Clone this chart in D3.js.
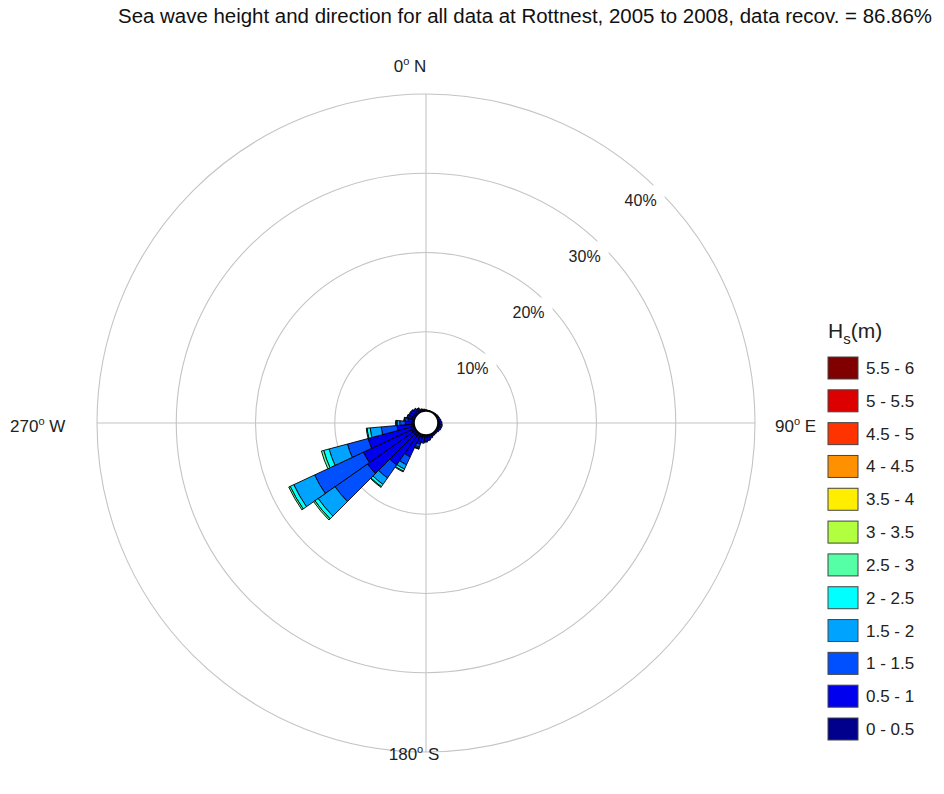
<!DOCTYPE html>
<html>
<head>
<meta charset="utf-8">
<script src="https://cdn.jsdelivr.net/npm/d3@7/dist/d3.min.js"></script>
<style>
  html, body { margin: 0; padding: 0; background: #fff; }
  svg { display: block; font-family: "Liberation Sans", Arial, sans-serif; }
</style>
</head>
<body>
<svg id="chart" width="944" height="794"></svg>
<script>
// Direction bins (bin centres, degrees clockwise from north, 10° wide)
const directions = [0,10,20,30,40,50,60,70,80,90,100,110,120,130,140,150,160,170,
                    180,190,200,210,220,230,240,250,260,270,280,290,300,310,320,330,340,350];

// Percentage of records in each direction bin, per Hs class (m)
const hs_0_05  = [0.10,0.06,0.06,0.06,0.08,0.10,0.12,0.14,0.18,0.20,0.22,0.20,0.18,0.15,0.15,0.15,0.20,0.25,
                  0.30,0.30,0.35,0.40,0.45,0.50,0.50,0.45,0.35,0.30,0.30,0.35,0.40,0.40,0.35,0.30,0.20,0.15];
const hs_05_1  = [0.05,0.04,0.04,0.04,0.07,0.10,0.13,0.16,0.22,0.30,0.33,0.30,0.22,0.15,0.15,0.20,0.30,0.40,
                  0.50,0.60,0.90,2.80,4.50,7.00,6.70,5.60,1.80,0.80,0.50,0.45,0.40,0.40,0.35,0.25,0.15,0.10];
const hs_1_15  = [0,0,0,0,0,0,0,0,0,0,0,0,0,0,0,0,0,0.05,
                  0.10,0.15,0.40,1.10,2.00,5.00,6.80,2.70,2.00,0.70,0.30,0.15,0.10,0.08,0.07,0.05,0,0];
const hs_15_2  = [0,0,0,0,0,0,0,0,0,0,0,0,0,0,0,0,0,0,
                  0,0,0.15,0.60,1.00,2.60,2.90,2.40,1.40,0.35,0.15,0.05,0,0,0,0,0,0];
const hs_2_25  = [0,0,0,0,0,0,0,0,0,0,0,0,0,0,0,0,0,0,
                  0,0,0.07,0.30,0.35,0.50,0.50,0.70,0.40,0.12,0.05,0,0,0,0,0,0,0];
const hs_25_3  = [0,0,0,0,0,0,0,0,0,0,0,0,0,0,0,0,0,0,
                  0,0,0.03,0.10,0.10,0.20,0.20,0.30,0.10,0.03,0,0,0,0,0,0,0,0];

// Legend classes, low to high, and their colours
const classLabels = ["0 - 0.5","0.5 - 1","1 - 1.5","1.5 - 2","2 - 2.5","2.5 - 3",
                     "3 - 3.5","3.5 - 4","4 - 4.5","4.5 - 5","5 - 5.5","5.5 - 6"];
const classColors = ["#00008c","#0000ee","#0050ff","#00a4ff","#00ffff","#55ffa5",
                     "#b2ff40","#ffee00","#ff9000","#ff3300","#dd0000","#800000"];

const ringTicks = [10, 20, 30, 40];
const compassLabels = [
  { deg: "0",   dir: "N" },
  { deg: "90",  dir: "E" },
  { deg: "180", dir: "S" },
  { deg: "270", dir: "W" }
];

const titleText = "Sea wave height and direction for all data at Rottnest, 2005 to 2008, data recov. = 86.86%";

// ---------------------------------------------------------------------------
const svg = d3.select("#chart");
const cx = 426, cy = 423;
const R = 329, r0 = 12;
const rScale = d3.scaleLinear().domain([0, 40]).range([r0, R]);

// Title
svg.append("text")
  .attr("x", 525).attr("y", 23)
  .attr("text-anchor", "middle")
  .attr("font-size", 20)
  .attr("textLength", 814)
  .attr("lengthAdjust", "spacingAndGlyphs")
  .attr("fill", "#111")
  .text(titleText);

const g = svg.append("g").attr("transform", `translate(${cx},${cy})`);

// Grid rings
g.selectAll("circle.ring").data(ringTicks).join("circle")
  .attr("class", "ring")
  .attr("r", d => rScale(d))
  .attr("fill", "none")
  .attr("stroke", "#c4c4c4")
  .attr("stroke-width", 1.1);

// Cross hairs
g.append("line").attr("x1", -R).attr("x2", R).attr("y1", 0).attr("y2", 0)
  .attr("stroke", "#c4c4c4").attr("stroke-width", 1.1);
g.append("line").attr("x1", 0).attr("x2", 0).attr("y1", -R).attr("y2", R)
  .attr("stroke", "#c4c4c4").attr("stroke-width", 1.1);

// Ring labels along the north-east diagonal, on a white patch
const ringLab = g.selectAll("g.rlab").data(ringTicks).join("g")
  .attr("class", "rlab")
  .attr("transform", d => {
    const p = rScale(d) / Math.SQRT2;
    return `translate(${p - 18},${-p + 10})`;
  });
ringLab.append("rect")
  .attr("x", -22).attr("y", -15).attr("width", 46).attr("height", 28)
  .attr("fill", "#fff");
ringLab.append("text")
  .attr("text-anchor", "middle")
  .attr("y", 6)
  .attr("font-size", 16)
  .attr("fill", "#222")
  .text(d => d + "%");

// Stacked rose
const keys = ["c0", "c1", "c2", "c3", "c4", "c5"];
const seriesValues = [hs_0_05, hs_05_1, hs_1_15, hs_15_2, hs_2_25, hs_25_3];
const rows = directions.map((dir, i) => {
  const row = { dir };
  keys.forEach((k, j) => { row[k] = seriesValues[j][i]; });
  return row;
});
const stacked = d3.stack().keys(keys)(rows);
const rad = Math.PI / 180;
const arc = d3.arc()
  .innerRadius(d => rScale(d[0]))
  .outerRadius(d => rScale(d[1]))
  .startAngle(d => (d.data.dir - 5) * rad)
  .endAngle(d => (d.data.dir + 5) * rad);

const layers = g.append("g").selectAll("g").data(stacked).join("g")
  .attr("fill", (s, i) => classColors[i]);
layers.selectAll("path")
  .data(s => s.filter(d => d[1] - d[0] > 0))
  .join("path")
  .attr("d", arc)
  .attr("stroke", "#000")
  .attr("stroke-width", 0.9)
  .attr("stroke-linejoin", "round");

// Calm centre
g.append("circle").attr("r", r0)
  .attr("fill", "#fff").attr("stroke", "#000").attr("stroke-width", 1.6);

// Compass labels with superscript degree sign
function compassText(sel, c) {
  sel.append("tspan").text(c.deg);
  sel.append("tspan").attr("font-size", 11).attr("dy", -7).text("o");
  sel.append("tspan").attr("dy", 7).text("\u00a0" + c.dir);
}
const compassPos = {
  N: { x: 410, y: 72,  anchor: "middle" },
  E: { x: 775, y: 432, anchor: "start" },
  S: { x: 414, y: 760, anchor: "middle" },
  W: { x: 10,  y: 432, anchor: "start" }
};
compassLabels.forEach(c => {
  const p = compassPos[c.dir];
  const t = svg.append("text")
    .attr("x", p.x).attr("y", p.y)
    .attr("text-anchor", p.anchor)
    .attr("font-size", 17)
    .attr("fill", "#222");
  compassText(t, c);
});

// Legend
const legend = svg.append("g").attr("transform", "translate(828,0)");
const lt = legend.append("text").attr("x", 0).attr("y", 338)
  .attr("font-size", 21).attr("fill", "#222");
lt.append("tspan").text("H");
lt.append("tspan").attr("font-size", 15).attr("dy", 6).text("s");
lt.append("tspan").attr("dy", -6).text("(m)");

const legendItems = classLabels.map((l, i) => ({ label: l, color: classColors[i] })).reverse();
const ly = d3.scaleLinear().domain([0, 11]).range([357, 718]);
const item = legend.selectAll("g.item").data(legendItems).join("g")
  .attr("class", "item")
  .attr("transform", (d, i) => `translate(0,${ly(i)})`);
item.append("rect")
  .attr("width", 30).attr("height", 22)
  .attr("fill", d => d.color)
  .attr("stroke", "#444").attr("stroke-width", 1);
item.append("text")
  .attr("x", 38).attr("y", 17)
  .attr("font-size", 17).attr("fill", "#222")
  .text(d => d.label);
</script>
</body>
</html>
